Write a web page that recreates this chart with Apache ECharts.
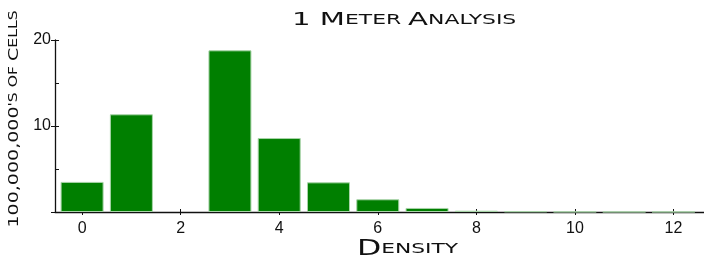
<!DOCTYPE html>
<html><head><meta charset="utf-8">
<script src="https://cdn.jsdelivr.net/npm/echarts@6/dist/echarts.min.js"></script>
<style>html,body{margin:0;padding:0;background:#fff}#c{width:704px;height:266px}</style>
</head><body><div id="c"></div>
<script>
const densities = [0,1,2,3,4,5,6,7,8,9,10,11,12];
const cells = [3.5,11.36,0,18.8,8.6,3.45,1.48,0.47,0.15,0.07,0.03,0.02,0.02];
const xTicks = [0,2,4,6,8,10,12];

const chart = echarts.init(document.getElementById('c'));
const sans = 'Liberation Sans';
const capsFont = 'DejaVu Sans';
function capsRich(big, small){
  return {b:{fontFamily:capsFont,fontSize:big,fill:'#111',fontWeight:'normal'},
          s:{fontFamily:capsFont,fontSize:small,fill:'#111',fontWeight:'normal'}};
}
chart.setOption({
  animation:false,
  graphic:[
    {type:'text', x:292, y:11, scaleX:1.62, silent:true,
     style:{text:'{b|1 M}{s|ETER }{b|A}{s|NALYSIS}', align:'left', verticalAlign:'top', rich:capsRich(18,13.5)}},
    {type:'text', x:357, y:239, scaleX:1.5, silent:true,
     style:{text:'{b|D}{s|ENSITY}', align:'left', verticalAlign:'top', rich:capsRich(21,14.5)}},
    {type:'text', x:14, y:119, rotation:Math.PI/2, scaleX:1.36, silent:true,
     style:{text:'{b|100,000,000}{s|\'S OF }{b|C}{s|ELLS}', align:'center', verticalAlign:'middle', rich:capsRich(14,11.5)}}
  ],
  grid:{left:55,right:0,top:40,bottom:54,outerBoundsMode:'none'},
  xAxis:[{
    type:'value', min:-0.55, max:12.62,
    axisLine:{onZero:false,lineStyle:{color:'#111',width:1.3}},
    axisTick:{show:true,length:3,customValues:xTicks,lineStyle:{color:'#111'}},
    axisLabel:{customValues:xTicks,color:'#111',fontFamily:sans,fontSize:16,margin:9},
    splitLine:{show:false}
  },{
    type:'value', min:-0.55, max:12.62, position:'bottom',
    axisLine:{show:false,onZero:false},
    axisTick:{show:true,inside:true,length:3,customValues:xTicks,lineStyle:{color:'#111'}},
    axisLabel:{show:false}, splitLine:{show:false}
  }],
  yAxis:[{
    type:'value', min:0, max:20, interval:10,
    axisLine:{show:true,onZero:false,lineStyle:{color:'#111',width:1.3}},
    axisTick:{show:true,length:4,lineStyle:{color:'#111'}},
    axisLabel:{color:'#111',fontFamily:sans,fontSize:16,margin:4,formatter:v=>v===0?'':String(v)},
    splitLine:{show:false}
  },{
    type:'value', min:0, max:20, interval:5, position:'left', offset:0,
    axisLine:{show:false,onZero:false},
    axisTick:{show:true,inside:true,length:4,lineStyle:{color:'#111'}},
    axisLabel:{show:false}, splitLine:{show:false}
  }],
  series:[{
    type:'bar', xAxisIndex:0, yAxisIndex:0,
    data:densities.map((d,i)=>[d, cells[i] === 0 ? '-' : cells[i]]),
    barWidth:43,
    itemStyle:{color:'#007f00',borderColor:'#a8d4a8',borderWidth:1},
    silent:true
  }]
});
</script></body></html>
